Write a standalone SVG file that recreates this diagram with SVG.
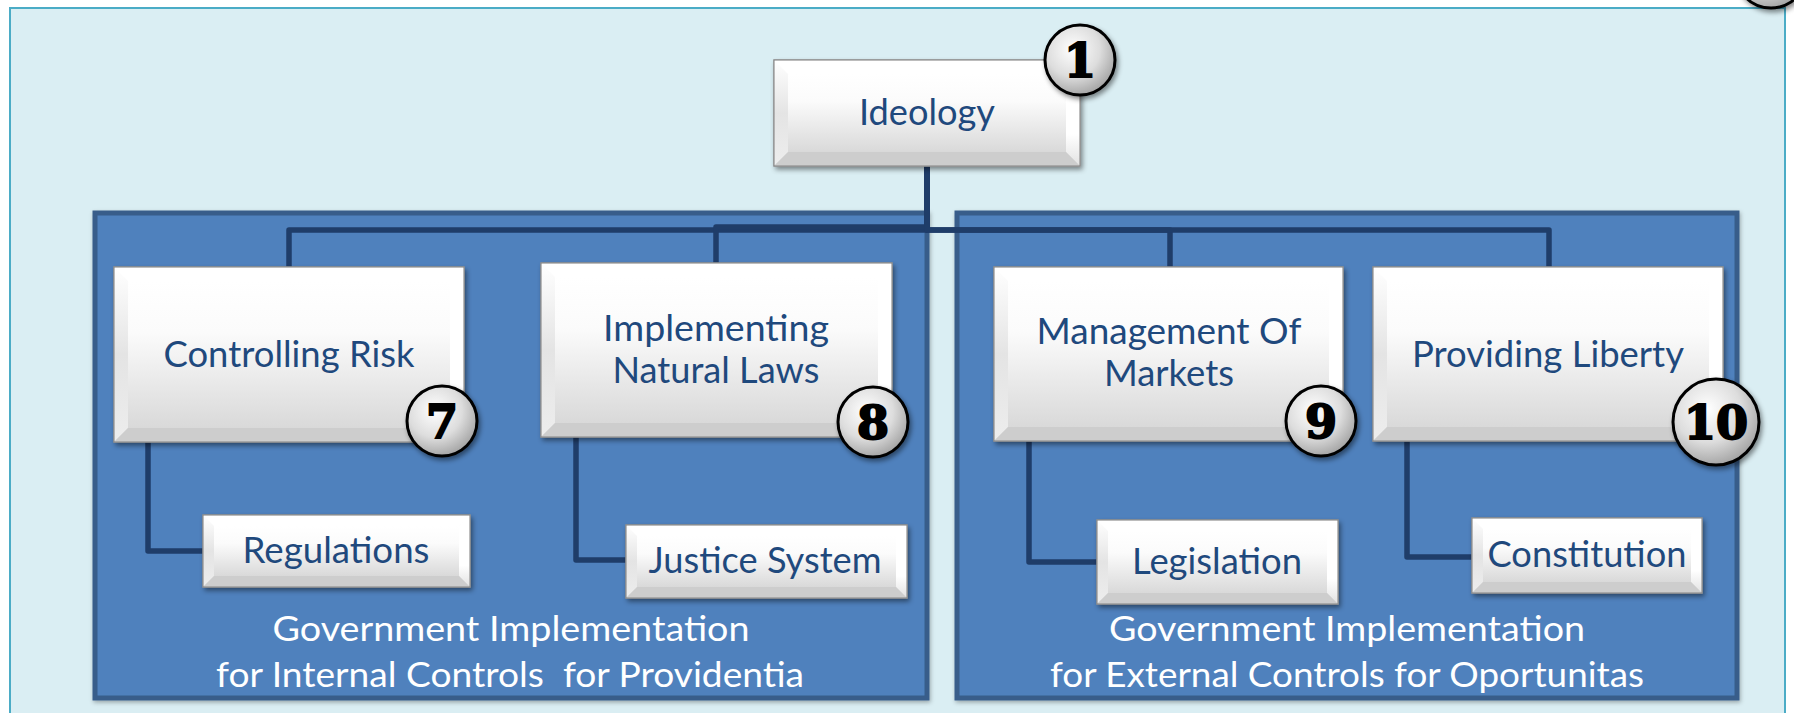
<svg xmlns="http://www.w3.org/2000/svg" width="1794" height="713" viewBox="0 0 1794 713">
<defs>
<linearGradient id="face" x1="0" y1="0" x2="0" y2="1">
<stop offset="0" stop-color="#FFFFFF"/><stop offset="0.35" stop-color="#FBFBFB"/><stop offset="1" stop-color="#D9D9D9"/>
</linearGradient>
<linearGradient id="lbev" x1="0" y1="0" x2="0" y2="1">
<stop offset="0" stop-color="#FFFFFF"/><stop offset="0.5" stop-color="#E4E4E4"/><stop offset="1" stop-color="#EDEDED"/>
</linearGradient>
<linearGradient id="rbev" x1="0" y1="0" x2="0" y2="1">
<stop offset="0" stop-color="#FFFFFF"/><stop offset="0.7" stop-color="#FFFFFF"/><stop offset="1" stop-color="#E2E2E2"/>
</linearGradient>
<radialGradient id="badge" cx="0.4" cy="0.35" r="0.7">
<stop offset="0" stop-color="#FFFFFF"/><stop offset="0.55" stop-color="#DDDDDD"/><stop offset="1" stop-color="#9E9E9E"/>
</radialGradient>
<filter id="sh" x="-10%" y="-10%" width="130%" height="140%">
<feDropShadow dx="2" dy="3" stdDeviation="2.5" flood-color="#000" flood-opacity="0.45"/>
</filter>
<filter id="shp" x="-5%" y="-5%" width="110%" height="115%">
<feDropShadow dx="1" dy="2" stdDeviation="2" flood-color="#000" flood-opacity="0.3"/>
</filter>
</defs>
<style>
.frame{fill:#DAEEF3;stroke:#4BACC6;stroke-width:2}
.panel{fill:#4F81BD;stroke:#385D8A;stroke-width:5}
.conn{fill:none;stroke:#1F3D69;stroke-width:5.5;stroke-linejoin:round}
.outer{fill:url(#face);stroke:#8F8F8F;stroke-width:1.2}
.tb{fill:#FFFFFF}
.lb{fill:url(#lbev)}
.rb{fill:url(#rbev)}
.bb{fill:#CDCDCD}
.fc{fill:url(#face)}
.lbl{font-family:"Lato","Liberation Sans",sans-serif;font-size:37px;fill:#1F497D;text-anchor:middle}
.ptxt{font-family:"Lato","Liberation Sans",sans-serif;font-size:34px;fill:#FFFFFF;text-anchor:middle}
.bc{fill:url(#badge);stroke:#000;stroke-width:3}
.bn{font-family:"DejaVu Serif","Liberation Serif",serif;font-weight:bold;font-size:46px;fill:#000;stroke:#000;stroke-width:2;text-anchor:middle}
</style>

<rect class="frame" x="10" y="8" width="1775" height="720"/>

<g id="panel-internal">
<rect class="panel" x="95" y="213" width="832" height="485" filter="url(#shp)"/>
</g>
<g id="panel-external">
<rect class="panel" x="957" y="213" width="780" height="485" filter="url(#shp)"/>
</g>

<g id="connectors">
<path class="conn" d="M927,166 V230 H289 V267"/>
<path class="conn" d="M927,166 V227 H716 V263"/>
<path class="conn" d="M927,166 V230 H1170 V267"/>
<path class="conn" d="M927,166 V230 H1549 V267"/>
<path class="conn" d="M148,442 V551 H203"/>
<path class="conn" d="M576,437 V560 H626"/>
<path class="conn" d="M1029,441 V562 H1097"/>
<path class="conn" d="M1407,441 V557 H1472"/>
</g>

<g id="ideology">
<g filter="url(#sh)"><rect class="outer" x="774" y="60" width="306" height="106"/></g>
<polygon class="tb" points="774,60 1080,60 1066,74 788,74"/>
<polygon class="lb" points="774,60 788,74 788,152 774,166"/>
<polygon class="rb" points="1080,60 1080,166 1066,152 1066,74"/>
<polygon class="bb" points="774,166 1080,166 1066,152 788,152"/>
<rect class="fc" x="788" y="74" width="278" height="78"/>
<rect x="774" y="60" width="306" height="106" fill="none" stroke="#8F8F8F" stroke-width="1.2"/>
<text class="lbl" x="927" y="125" textLength="136" lengthAdjust="spacingAndGlyphs">Ideology</text>
</g>

<g id="controlling-risk">
<g filter="url(#sh)"><rect class="outer" x="114" y="267" width="350" height="175"/></g>
<polygon class="tb" points="114,267 464,267 450,281 128,281"/>
<polygon class="lb" points="114,267 128,281 128,428 114,442"/>
<polygon class="rb" points="464,267 464,442 450,428 450,281"/>
<polygon class="bb" points="114,442 464,442 450,428 128,428"/>
<rect class="fc" x="128" y="281" width="322" height="147"/>
<rect x="114" y="267" width="350" height="175" fill="none" stroke="#8F8F8F" stroke-width="1.2"/>
<text class="lbl" x="289" y="367" textLength="251" lengthAdjust="spacingAndGlyphs">Controlling Risk</text>
</g>

<g id="implementing">
<g filter="url(#sh)"><rect class="outer" x="541" y="263" width="351" height="174"/></g>
<polygon class="tb" points="541,263 892,263 878,277 555,277"/>
<polygon class="lb" points="541,263 555,277 555,423 541,437"/>
<polygon class="rb" points="892,263 892,437 878,423 878,277"/>
<polygon class="bb" points="541,437 892,437 878,423 555,423"/>
<rect class="fc" x="555" y="277" width="323" height="146"/>
<rect x="541" y="263" width="351" height="174" fill="none" stroke="#8F8F8F" stroke-width="1.2"/>
<text class="lbl" x="716" y="341" textLength="226" lengthAdjust="spacingAndGlyphs">Implementing</text>
<text class="lbl" x="716" y="383" textLength="207" lengthAdjust="spacingAndGlyphs">Natural Laws</text>
</g>

<g id="management">
<g filter="url(#sh)"><rect class="outer" x="994" y="267" width="349" height="174"/></g>
<polygon class="tb" points="994,267 1343,267 1329,281 1008,281"/>
<polygon class="lb" points="994,267 1008,281 1008,427 994,441"/>
<polygon class="rb" points="1343,267 1343,441 1329,427 1329,281"/>
<polygon class="bb" points="994,441 1343,441 1329,427 1008,427"/>
<rect class="fc" x="1008" y="281" width="321" height="146"/>
<rect x="994" y="267" width="349" height="174" fill="none" stroke="#8F8F8F" stroke-width="1.2"/>
<text class="lbl" x="1169" y="344" textLength="265" lengthAdjust="spacingAndGlyphs">Management Of</text>
<text class="lbl" x="1169" y="386" textLength="130" lengthAdjust="spacingAndGlyphs">Markets</text>
</g>

<g id="providing-liberty">
<g filter="url(#sh)"><rect class="outer" x="1373" y="267" width="350" height="174"/></g>
<polygon class="tb" points="1373,267 1723,267 1709,281 1387,281"/>
<polygon class="lb" points="1373,267 1387,281 1387,427 1373,441"/>
<polygon class="rb" points="1723,267 1723,441 1709,427 1709,281"/>
<polygon class="bb" points="1373,441 1723,441 1709,427 1387,427"/>
<rect class="fc" x="1387" y="281" width="322" height="146"/>
<rect x="1373" y="267" width="350" height="174" fill="none" stroke="#8F8F8F" stroke-width="1.2"/>
<text class="lbl" x="1548" y="367" textLength="272" lengthAdjust="spacingAndGlyphs">Providing Liberty</text>
</g>

<g id="regulations">
<g filter="url(#sh)"><rect class="outer" x="203" y="515" width="267" height="72"/></g>
<polygon class="tb" points="203,515 470,515 459,526 214,526"/>
<polygon class="lb" points="203,515 214,526 214,576 203,587"/>
<polygon class="rb" points="470,515 470,587 459,576 459,526"/>
<polygon class="bb" points="203,587 470,587 459,576 214,576"/>
<rect class="fc" x="214" y="526" width="245" height="50"/>
<rect x="203" y="515" width="267" height="72" fill="none" stroke="#8F8F8F" stroke-width="1.2"/>
<text class="lbl" x="336" y="563" textLength="187" lengthAdjust="spacingAndGlyphs">Regulations</text>
</g>

<g id="justice-system">
<g filter="url(#sh)"><rect class="outer" x="626" y="525" width="281" height="73"/></g>
<polygon class="tb" points="626,525 907,525 896,536 637,536"/>
<polygon class="lb" points="626,525 637,536 637,587 626,598"/>
<polygon class="rb" points="907,525 907,598 896,587 896,536"/>
<polygon class="bb" points="626,598 907,598 896,587 637,587"/>
<rect class="fc" x="637" y="536" width="259" height="51"/>
<rect x="626" y="525" width="281" height="73" fill="none" stroke="#8F8F8F" stroke-width="1.2"/>
<text class="lbl" x="765" y="573" textLength="233" lengthAdjust="spacingAndGlyphs">Justice System</text>
</g>

<g id="legislation">
<g filter="url(#sh)"><rect class="outer" x="1097" y="520" width="241" height="84"/></g>
<polygon class="tb" points="1097,520 1338,520 1327,531 1108,531"/>
<polygon class="lb" points="1097,520 1108,531 1108,593 1097,604"/>
<polygon class="rb" points="1338,520 1338,604 1327,593 1327,531"/>
<polygon class="bb" points="1097,604 1338,604 1327,593 1108,593"/>
<rect class="fc" x="1108" y="531" width="219" height="62"/>
<rect x="1097" y="520" width="241" height="84" fill="none" stroke="#8F8F8F" stroke-width="1.2"/>
<text class="lbl" x="1217" y="574" textLength="170" lengthAdjust="spacingAndGlyphs">Legislation</text>
</g>

<g id="constitution">
<g filter="url(#sh)"><rect class="outer" x="1472" y="518" width="230" height="75"/></g>
<polygon class="tb" points="1472,518 1702,518 1691,529 1483,529"/>
<polygon class="lb" points="1472,518 1483,529 1483,582 1472,593"/>
<polygon class="rb" points="1702,518 1702,593 1691,582 1691,529"/>
<polygon class="bb" points="1472,593 1702,593 1691,582 1483,582"/>
<rect class="fc" x="1483" y="529" width="208" height="53"/>
<rect x="1472" y="518" width="230" height="75" fill="none" stroke="#8F8F8F" stroke-width="1.2"/>
<text class="lbl" x="1587" y="567" textLength="199" lengthAdjust="spacingAndGlyphs">Constitution</text>
</g>

<g id="badge-1">
<circle class="bc" cx="1080" cy="60" r="35" filter="url(#sh)"/>
<text class="bn" x="1080" y="77">1</text>
</g>
<g id="badge-7">
<circle class="bc" cx="442" cy="421" r="35" filter="url(#sh)"/>
<text class="bn" x="442" y="438">7</text>
</g>
<g id="badge-8">
<circle class="bc" cx="873" cy="422" r="35" filter="url(#sh)"/>
<text class="bn" x="873" y="439">8</text>
</g>
<g id="badge-9">
<circle class="bc" cx="1321" cy="421" r="35" filter="url(#sh)"/>
<text class="bn" x="1321" y="438">9</text>
</g>
<g id="badge-10">
<circle class="bc" cx="1716" cy="422" r="43" filter="url(#sh)"/>
<text class="bn" x="1716" y="439">10</text>
</g>
<g id="badge-top">
<circle class="bc" cx="1771" cy="-28" r="36" filter="url(#sh)"/>
</g>

<g id="panel-labels">
<text class="ptxt" x="511" y="641" textLength="477" lengthAdjust="spacingAndGlyphs">Government Implementation</text>
<text class="ptxt" x="510" y="687" textLength="588" lengthAdjust="spacingAndGlyphs" xml:space="preserve">for Internal Controls  for Providentia</text>
<text class="ptxt" x="1347" y="641" textLength="476" lengthAdjust="spacingAndGlyphs">Government Implementation</text>
<text class="ptxt" x="1347" y="687" textLength="594" lengthAdjust="spacingAndGlyphs">for External Controls for Oportunitas</text>
</g>
</svg>
